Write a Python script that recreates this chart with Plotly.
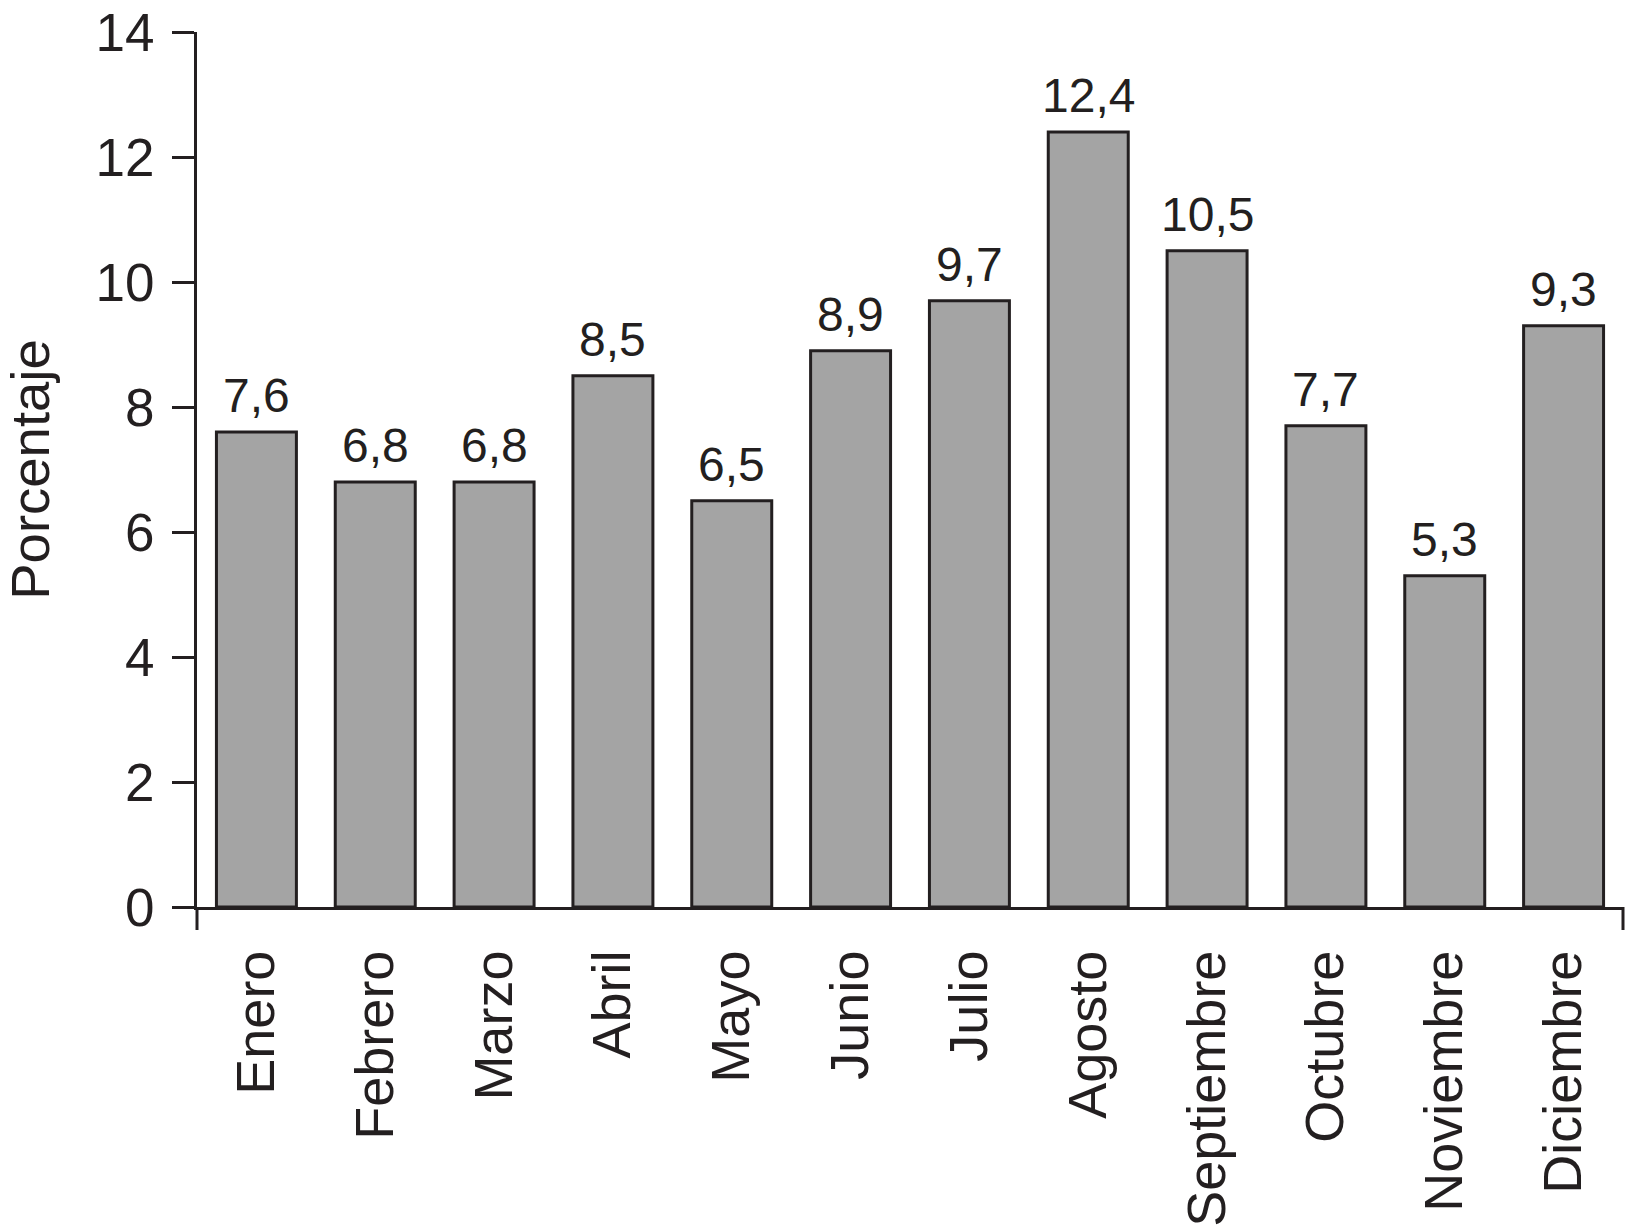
import plotly.graph_objects as go

meses = ["Enero", "Febrero", "Marzo", "Abril", "Mayo", "Junio", "Julio",
         "Agosto", "Septiembre", "Octubre", "Noviembre", "Diciembre"]
porcentaje = [7.6, 6.8, 6.8, 8.5, 6.5, 8.9, 9.7, 12.4, 10.5, 7.7, 5.3, 9.3]
etiquetas = [f"{v:.1f}".replace(".", ",") for v in porcentaje]
y_ticks = [0, 2, 4, 6, 8, 10, 12, 14]

INK = "#231f20"
FONT = "Liberation Sans, Arial, sans-serif"

fig = go.Figure(go.Bar(
    x=meses, y=porcentaje,
    marker=dict(color="#a4a4a4", line=dict(color=INK, width=3)),
    hoverinfo="x+y",
))

for m, v, lab in zip(meses, porcentaje, etiquetas):
    fig.add_annotation(x=m, y=v, text=lab, showarrow=False,
                       yanchor="bottom", xanchor="center", yshift=8,
                       font=dict(size=48, color=INK, family=FONT))

fig.update_layout(
    width=1625, height=1229,
    margin=dict(l=197, r=2, t=32, b=322),
    paper_bgcolor="white", plot_bgcolor="white",
    bargap=0.327, showlegend=False,
    font=dict(family=FONT, color=INK),
)
fig.update_yaxes(
    range=[0, 14], tickvals=y_ticks, ticks="outside", ticklen=22,
    tickwidth=3, tickcolor=INK, showline=True, linewidth=3, linecolor=INK,
    showgrid=False, zeroline=False, tickfont=dict(size=53, color=INK),
    ticklabelstandoff=7, automargin=False,
    title=dict(text="Porcentaje", font=dict(size=54.5, color=INK), standoff=30),
)
fig.update_xaxes(
    type="category", tickangle=-90, ticks="", showline=True, linewidth=3,
    linecolor=INK, showgrid=False, tickfont=dict(size=54, color=INK),
    ticklabelstandoff=19, automargin=False,
)
# end ticks of the x axis (axis decoration)
for xd in (0, 1):
    fig.add_shape(type="line", xref="x domain", yref="y domain",
                  x0=xd, x1=xd, y0=0, y1=-0.0263,
                  line=dict(color=INK, width=3))

fig.write_html("out.html", config={"displayModeBar": False},
               post_script="document.body.style.margin='0';")
